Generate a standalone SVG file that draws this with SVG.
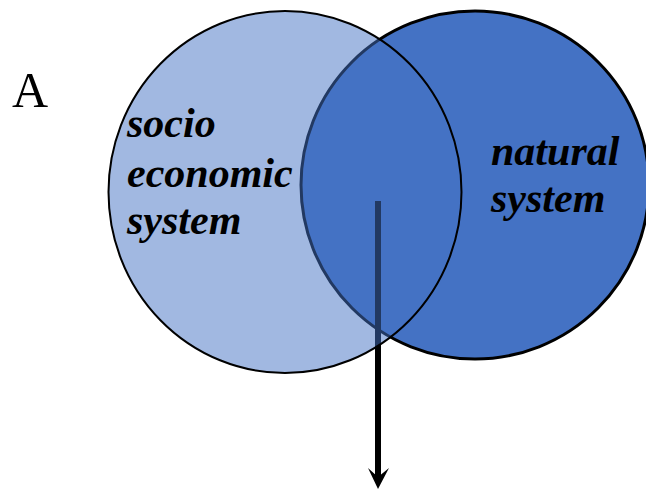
<svg xmlns="http://www.w3.org/2000/svg" width="646" height="490" viewBox="0 0 646 490">
<defs>
<style>
.lbl{font-family:"Liberation Serif","Times New Roman",serif;font-weight:bold;font-style:italic;font-size:42px;fill:#000}
.letter{font-family:"Liberation Serif","Times New Roman",serif;font-size:50px;fill:#000}
</style>
</defs>
<rect width="646" height="490" fill="#fff"/>
<g id="natural-system">
<circle cx="475" cy="185" r="174" fill="#4472c4" stroke="#000" stroke-width="3"/>
</g>
<g id="connectors">
<line x1="378" y1="201" x2="378" y2="480" stroke="#000" stroke-width="6"/>
<path d="M368,468 L378,489 L389,468 L378,477 Z" fill="#000"/>
</g>
<g id="socio-economic-system">
<ellipse cx="285" cy="192" rx="176.5" ry="181" fill="#4472c4" fill-opacity="0.5" stroke="#000" stroke-width="2"/>
</g>
<g id="labels">
<text class="letter" x="12" y="107">A</text>
<text class="lbl" x="127" y="137">socio</text>
<text class="lbl" x="127" y="187">economic</text>
<text class="lbl" x="127" y="234">system</text>
<text class="lbl" x="491" y="165">natural</text>
<text class="lbl" x="491" y="212">system</text>
</g>
</svg>
